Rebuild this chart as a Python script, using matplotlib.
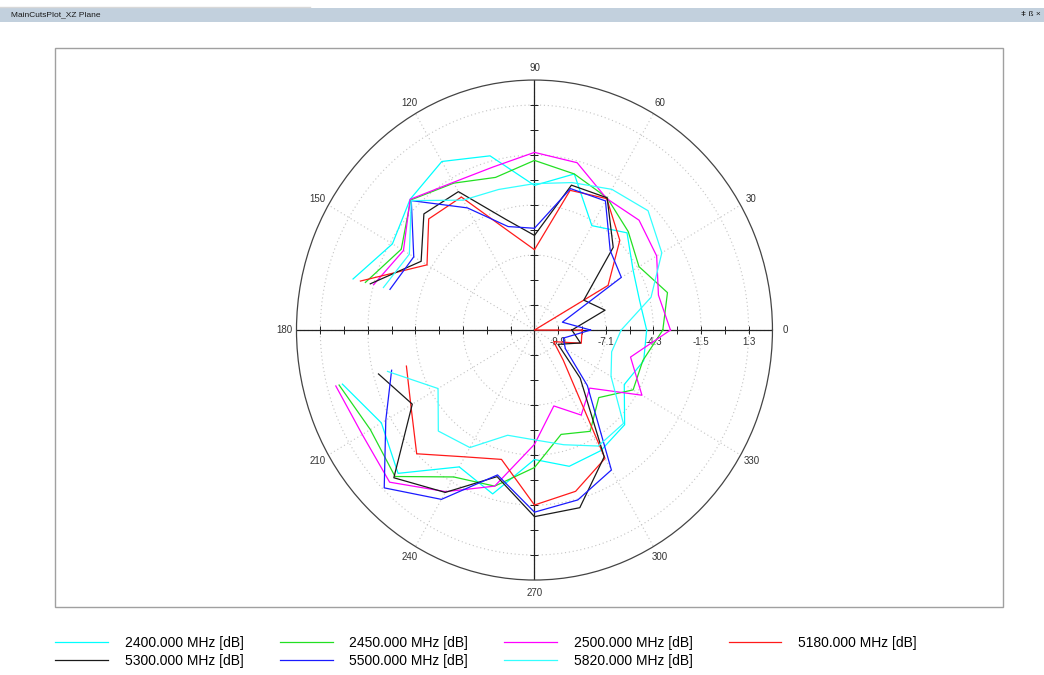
import numpy as np
import matplotlib.pyplot as plt
from matplotlib.patches import Rectangle
from matplotlib.lines import Line2D

plt.rcParams['font.family'] = ['Liberation Sans', 'DejaVu Sans']

# 角度 0..345，步长15度；180度处无数据
angles = np.arange(0, 360, 15)
nan = np.nan

#            0     15    30    45    60    75    90   105   120   135   150   165  180   195   210   225   240   255   270   285   300   315   330   345
f2400 = [-4.7, -4.9, -4.6, -3.6, -4.55, -2.25, -3.2, -1.2, -0.4, -0.95, -1.65, -0.25, nan, 0.4, -0.9, 0.05, -2.45, -1.8, -4.05, -3.4, -3.5, -3.8, -5.2, -4.65]
f2450 = [-3.75, -3.2, -4.2, -3.5, -2.75, -2.25, -1.8, -2.45, -1.8, -1.0, -2.25, -1.0, nan, 0.6, -0.15, 0.3, -1.8, -2.25, -3.6, -5.25, -4.75, -5.95, -4.6, -4.7]
f2500 = [-3.3, -3.75, -3.0, -2.6, -2.8, -1.6, -1.35, -1.85, -1.75, -0.95, -2.4, -1.5, nan, 0.8, 0.4, 0.75, -0.85, -2.25, -4.9, -6.9, -5.8, -6.7, -4.0, -5.45]
f5180 = [-8.5, -12.0, -6.3, -4.2, -2.8, -3.2, -6.8, -5.6, -2.7, -2.5, -4.0, -0.7, nan, -3.5, -2.9, -1.5, -3.1, -3.8, -1.5, -1.95, -3.0, -8.9, -10.0, -8.45]
f5300 = [-9.1, -7.0, -7.95, -4.75, -2.75, -2.9, -6.0, -4.9, -2.35, -2.1, -3.6, -1.3, nan, -1.8, -3.0, 0.4, -0.8, -2.8, -0.85, -1.0, -3.1, -7.5, -9.7, -8.5]
f5500 = [-8.0, -9.6, -5.4, -5.0, -2.95, -3.1, -5.6, -5.3, -3.4, -1.05, -3.1, -2.5, nan, -2.6, -1.2, 1.2, -0.35, -2.9, -1.1, -1.45, -2.25, -6.9, -9.2, -9.55]
f5820 = [-6.2, -4.2, -2.65, -1.85, -2.2, -2.75, -3.1, -3.15, -2.9, -1.05, -2.8, -2.1, nan, -2.35, -4.75, -3.3, -3.7, -5.2, -5.15, -4.65, -3.8, -3.9, -6.1, -6.6]

series = [
    ('2400.000 MHz [dB]', f2400, '#00ffff'),
    ('2450.000 MHz [dB]', f2450, '#22e022'),
    ('2500.000 MHz [dB]', f2500, '#ff00ff'),
    ('5180.000 MHz [dB]', f5180, '#ff1a1a'),
    ('5300.000 MHz [dB]', f5300, '#1a1a1a'),
    ('5500.000 MHz [dB]', f5500, '#1a1aff'),
    ('5820.000 MHz [dB]', f5820, '#33ffff'),
]

r_min, r_max, r_step = -11.3, 2.7, 1.4
r_labels = [-9.9, -7.1, -4.3, -1.5, 1.3]
theta_labels = list(range(0, 360, 30))

fig = plt.figure(figsize=(10.44, 6.75), dpi=100)

# 窗口标题栏
fig.patches.append(Rectangle((0, 0.9674), 1, 0.0207, transform=fig.transFigure,
                             facecolor='#c2d0dd', edgecolor='none', zorder=0))
fig.add_artist(Line2D([0, 0.297], [0.9896, 0.9896], color='#d8d8d8', lw=1))
fig.text(0.011, 0.9778, 'MainCutsPlot_XZ Plane', fontsize=6, va='center', color='#1a1a1a')
fig.text(0.997, 0.9778, 'ǂ ß ×', fontsize=6, va='center', ha='right', color='#1a1a1a')

# 绘图区边框
fig.patches.append(Rectangle((0.0527, 0.1007), 0.908, 0.828, transform=fig.transFigure,
                             fill=False, edgecolor='#a0a0a0', lw=1))

ax = fig.add_axes([0.2840, 0.1407, 0.4559, 0.7407], projection='polar')
ax.set_aspect('auto')
ax.set_ylim(r_min, r_max)

ax.set_thetagrids(theta_labels, labels=[str(a) for a in theta_labels], fontsize=7, color='#333333')
ax.set_yticks(r_labels)
ax.set_yticklabels([])
ax.grid(True, color='#c4c4c4', linestyle=(0, (1, 2.5)), linewidth=0.8)
ax.tick_params(axis='x', direction='inout', length=6, width=0.8, color='#333333', pad=-1)
ax.tick_params(axis='y', length=0)
ax.spines['polar'].set_color('#444444')
ax.spines['polar'].set_linewidth(0.9)

# 十字坐标轴及刻度
rk = r_min + r_step * np.arange(1, 10)
for th in [0, np.pi]:
    ax.plot([th, th], [r_min, r_max], color='#222222', lw=0.9, zorder=2)
    ax.plot(np.full(len(rk), th), rk, ls='none', marker='|', ms=6, mew=0.7, color='#222222', zorder=2)
for th in [np.pi / 2, 3 * np.pi / 2]:
    ax.plot([th, th], [r_min, r_max], color='#222222', lw=0.9, zorder=2)
    ax.plot(np.full(len(rk), th), rk, ls='none', marker='_', ms=6, mew=0.7, color='#222222', zorder=2)

for v in r_labels:
    ax.annotate(f'{v:.1f}', xy=(0, v), xytext=(0, -5), textcoords='offset points',
                ha='center', va='top', fontsize=7, color='#333333')

# 数据曲线
handles = {}
theta = np.deg2rad(np.append(angles, 360))
for name, vals, c in series:
    r = np.append(vals, vals[0])
    r = np.clip(r, r_min, None)
    h, = ax.plot(theta, r, color=c, lw=0.9, label=name, zorder=3)
    handles[name] = h

# 图例：按行排列
order = ['2400.000 MHz [dB]', '5300.000 MHz [dB]', '2450.000 MHz [dB]', '5500.000 MHz [dB]',
         '2500.000 MHz [dB]', '5820.000 MHz [dB]', '5180.000 MHz [dB]']
fig.legend([handles[k] for k in order], order, loc='upper left', bbox_to_anchor=(0.053, 0.058),
           ncol=4, frameon=False, fontsize=10, handlelength=3.8, handletextpad=1.2,
           columnspacing=2.6, labelspacing=0.3, borderpad=0, borderaxespad=0)

fig.savefig('out.png', dpi=100)
